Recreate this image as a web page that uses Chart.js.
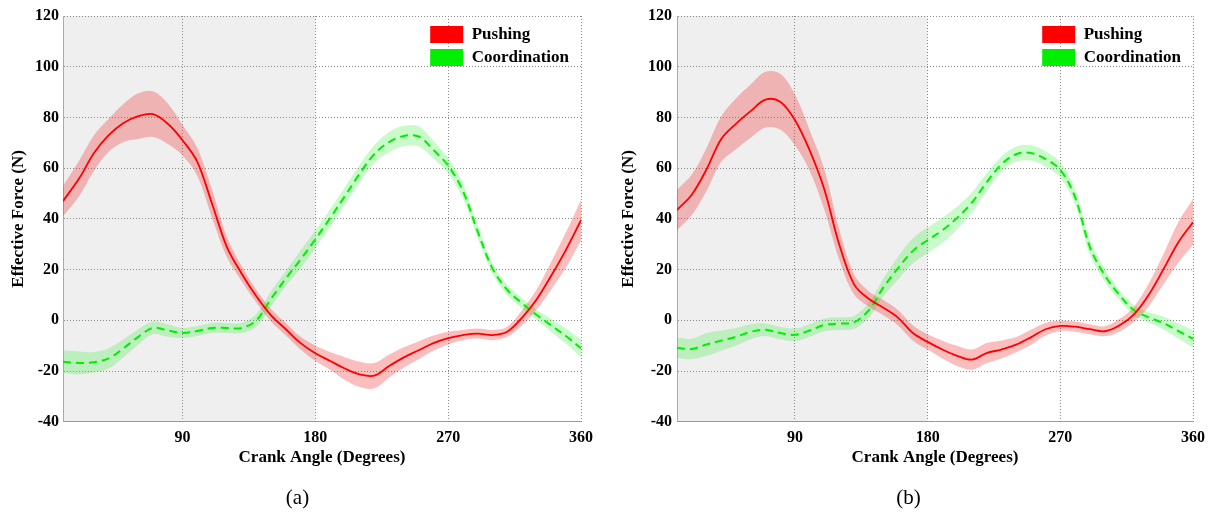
<!DOCTYPE html>
<html><head><meta charset="utf-8">
<script src="https://cdn.jsdelivr.net/npm/chart.js@4.4.0/dist/chart.umd.min.js"></script>
<style>
html,body{margin:0;padding:0;background:#fff;}
#wrap{position:relative;width:1214px;height:515px;overflow:hidden;}
.panel{position:absolute;top:0;width:607px;height:515px;}
</style></head><body>
<div id="wrap">
<div class="panel" style="left:0"><canvas id="ca" width="607" height="515"></canvas></div>
<div class="panel" style="left:607px"><canvas id="cb" width="607" height="515"></canvas></div>
</div>
<script>
// ---- data ----
const seriesNames = ['Pushing', 'Coordination'];
const panelLabels = ['(a)', '(b)'];
const xTitle = 'Crank Angle (Degrees)';
const yTitle = 'Effective Force (N)';
const xTicks = [90, 180, 270, 360];
const yTicks = [-40, -20, 0, 20, 40, 60, 80, 100, 120];
const shadeUntil = 180;

const anglesA = [9,20,30,40,50,60,70,80,90,100,110,120,130,140,150,160,170,180,190,200,210,220,230,240,250,260,270,280,290,300,310,320,330,340,350,360];
const pushMeanA = [47,56,66,73,77.8,80.5,81.3,77.5,71,62.5,46,29,18.5,9.5,2,-3.5,-9,-13,-16,-19,-21.3,-21.8,-18,-14.6,-11.8,-9,-7,-5.8,-5.2,-5.8,-4.5,1,8.3,17.8,28,39.5];
const pushSdA   = [6,7,7,6.5,7.5,9,9,8,6,5.5,5.5,4,3,2.5,2.5,2.5,2.5,3,3.5,4.5,5,5,4.5,4,3.5,3,2.5,2,2,2,2,3,4,5.5,7,8];
const coordMeanA = [-16.3,-16.8,-16.5,-15,-11,-6.5,-3,-4,-5,-4.2,-3,-3,-3,0,8.5,16.5,24,32,40.3,49,57.8,65.6,70.3,72.7,72.5,67.2,61,51,35,20.5,12,6.8,2.1,-2.1,-6.3,-11];
const coordSdA   = [4.5,4.5,4,4,3.5,3,2.5,2.5,2,2,2,2,2,2.5,3,3,3.5,3.5,3.5,3.5,3.5,3.5,4,4,4,3.5,3,3,2.5,2,2,2,2,2.5,3,3.5];

const anglesB = [10,20,30,40,50,60,70,80,90,100,110,120,130,140,150,160,170,180,190,200,210,220,230,240,250,260,270,280,290,300,310,320,330,340,350,360];
const pushMeanB = [43.5,49.5,59.5,71.5,77.5,82.5,87,86.2,79,67,51.5,30,14.3,8.5,5,1,-5,-8.5,-11.5,-14,-15.5,-12.9,-11.5,-9.6,-6.7,-3.5,-2.2,-2.5,-3.5,-4.3,-2,2.4,10.1,20.2,30.7,38.7];
const pushSdB   = [8,8,8.5,9,10,10.5,11,11,10,8,8,6,4,3,3,3,3,3,3.5,4,4,4,3.5,3,3,2.5,2,2,2,2,2.5,3,4.5,6,8,9];
const coordMeanB = [-10.8,-11.3,-9.5,-8,-6.5,-4.5,-3.7,-5,-5.7,-4,-1.8,-1.3,-0.8,3.9,13,20.6,27.4,31.6,35.5,40.4,46.4,54.4,61.5,65.5,66,63.6,59.3,48.6,29,17.9,10,4,1.2,-1.1,-4.2,-7.3];
const coordSdB   = [4,4,4.5,4,3.5,3,2.5,2.5,2.5,2.5,2.5,2.5,2.5,3,3.5,4.5,5,5,5,4.5,4,3.5,3,3,3,3,3,3,3,2.5,2,2,2,2.5,3,3.5];

// ---- styling ----
const FONT = "'Liberation Serif','Times New Roman',serif";
const lineColors = ['#ff0000', '#00ee00'];
const bandColors = ['rgba(240,40,40,0.30)', 'rgba(40,235,40,0.25)'];

const xy = (xs, ys) => xs.map((x, i) => ({x, y: ys[i]}));
const shift = (ys, sd, s) => ys.map((v, i) => v + s * sd[i]);

const shadePlugin = {
  id: 'shade',
  beforeDraw(chart) {
    const {ctx, chartArea: a, scales: {x}} = chart;
    const x0 = x.getPixelForValue(x.min), x1 = x.getPixelForValue(shadeUntil);
    ctx.save();
    ctx.fillStyle = '#efefef';
    ctx.fillRect(x0, a.top, x1 - x0, a.bottom - a.top);
    ctx.restore();
  }
};
const placePlugin = {
  id: 'place',
  afterLayout(chart, args, opts) {
    const lg = chart.legend;
    if (lg) {
      const w = lg.width;
      lg.left = chart.chartArea.right - w - 2;
      lg.right = lg.left + w;
      lg.top = chart.chartArea.top + 4;
      lg.bottom = lg.top + lg.height;
    }
    const tb = chart.titleBlock;
    if (tb) {
      tb.left += opts.captionShift;
      tb.right += opts.captionShift;
    }
  }
};

function makeChart(id, p) {
  const datasets = [
    {label: seriesNames[0], data: xy(p.angles, p.push), borderColor: lineColors[0], borderWidth: 1.8, pointRadius: 0, fill: false, tension: 0.35},
    {label: seriesNames[1], data: xy(p.angles, p.coord), borderColor: lineColors[1], borderWidth: 2, borderDash: [8, 5], pointRadius: 0, fill: false, tension: 0.35},
    {label: 'pu', data: xy(p.angles, shift(p.push, p.pushSd, 1)), borderWidth: 0, borderColor: 'rgba(0,0,0,0)', pointRadius: 0, fill: false, tension: 0.35},
    {label: 'pl', data: xy(p.angles, shift(p.push, p.pushSd, -1)), borderWidth: 0, borderColor: 'rgba(0,0,0,0)', pointRadius: 0, fill: '-1', backgroundColor: bandColors[0], tension: 0.35},
    {label: 'cu', data: xy(p.angles, shift(p.coord, p.coordSd, 1)), borderWidth: 0, borderColor: 'rgba(0,0,0,0)', pointRadius: 0, fill: false, tension: 0.35},
    {label: 'cl', data: xy(p.angles, shift(p.coord, p.coordSd, -1)), borderWidth: 0, borderColor: 'rgba(0,0,0,0)', pointRadius: 0, fill: '-1', backgroundColor: bandColors[1], tension: 0.35}
  ];
  return new Chart(document.getElementById(id), {
    type: 'line',
    data: {datasets},
    plugins: [shadePlugin, placePlugin],
    options: {
      responsive: false, animation: false, devicePixelRatio: 1,
      layout: {padding: {top: 16, left: 0, right: p.padRight, bottom: 0}},
      plugins: {
        place: {captionShift: p.captionShift},
        tooltip: {enabled: false},
        title: {display: true, position: 'bottom', text: p.caption, color: '#000',
                font: {family: FONT, size: 21, weight: 'normal'}, padding: {top: 11, bottom: 4}},
        legend: {
          display: true, position: 'chartArea', align: 'start',
          labels: {
            boxWidth: 33, boxHeight: 17, padding: 6, color: '#000',
            font: {family: FONT, size: 17, weight: 'bold'},
            generateLabels: () => seriesNames.map((n, i) => ({text: n, fillStyle: lineColors[i], strokeStyle: 'rgba(0,0,0,0)', lineWidth: 0, hidden: false, datasetIndex: i}))
          }
        }
      },
      scales: {
        x: {
          type: 'linear', min: p.xMin, max: 360,
          afterBuildTicks: s => { s.ticks = xTicks.map(v => ({value: v})); },
          afterFit: s => { s.height = 53; },
          grid: {color: '#8a8a8a', lineWidth: 1, drawTicks: false},
          border: {display: true, color: '#999999', width: 1, dash: [1, 2]},
          ticks: {color: '#000', font: {family: FONT, size: 16, weight: 'bold'}, padding: 6, maxRotation: 0, autoSkip: false},
          title: {display: true, text: xTitle, color: '#000', font: {family: FONT, size: 17, weight: 'bold'}, padding: {top: 0, bottom: 7}}
        },
        y: {
          type: 'linear', min: -40, max: 120,
          afterBuildTicks: s => { s.ticks = yTicks.map(v => ({value: v})); },
          afterFit: s => { s.width = p.yWidth; },
          grid: {color: '#8a8a8a', lineWidth: 1, drawTicks: false},
          border: {display: true, color: '#aaaaaa', width: 1, dash: [1, 2]},
          ticks: {color: '#000', font: {family: FONT, size: 16, weight: 'bold'}, padding: p.yTickPad},
          title: {display: true, text: yTitle, color: '#000', font: {family: FONT, size: 17, weight: 'bold'}, padding: {top: p.yTitlePad, bottom: 0}}
        }
      }
    }
  });
}

makeChart('ca', {angles: anglesA, push: pushMeanA, pushSd: pushSdA, coord: coordMeanA, coordSd: coordSdA,
  xMin: 9, caption: panelLabels[0], padRight: 26, yWidth: 63, yTitlePad: 8, yTickPad: 4, captionShift: 7});
makeChart('cb', {angles: anglesB, push: pushMeanB, pushSd: pushSdB, coord: coordMeanB, coordSd: coordSdB,
  xMin: 10, caption: panelLabels[1], padRight: 21, yWidth: 70, yTitlePad: 11, yTickPad: 5, captionShift: 8.5});
</script>
</body></html>
